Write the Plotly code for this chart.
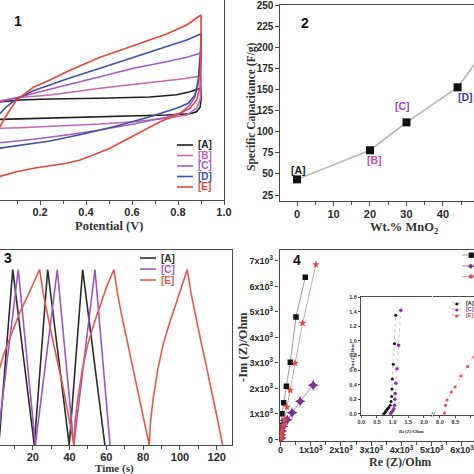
import plotly.graph_objects as go

W = H = 474
def PX(x): return x / W
def PY(y): return 1 - y / H

# ---------------- Panel 1: CV curves (Potential V vs current, arbitrary units) -------------
cv_A_V = [0.00, 0.026, 0.113, 0.243, 0.461, 0.678, 0.794, 0.852, 0.896, 0.900, 0.900, 0.896, 0.881, 0.852, 0.750, 0.606, 0.461, 0.243, 0.113, 0.026, 0.00]
cv_A_I = [1.6, 1.8, 2.0, 2.1, 2.17, 2.3, 2.53, 2.83, 3.17, 3.27, 2.0, 1.27, 0.83, 0.63, 0.5, 0.4, 0.3, 0.2, 0.13, 0.07, 0.05]

cv_B_V = [0.00, 0.026, 0.098, 0.243, 0.461, 0.678, 0.823, 0.896, 0.900, 0.900, 0.896, 0.881, 0.838, 0.750, 0.606, 0.461, 0.243, 0.113, 0.026, 0.00]
cv_B_I = [1.7, 1.93, 2.23, 2.5, 3.17, 3.73, 4.13, 4.4, 4.47, 3.33, 2.0, 1.17, 0.5, 0.17, -0.17, -0.4, -0.67, -0.77, -0.83, -0.86]

cv_C_V = [0.00, 0.026, 0.098, 0.171, 0.316, 0.461, 0.606, 0.750, 0.838, 0.896, 0.900, 0.900, 0.896, 0.888, 0.874, 0.852, 0.809, 0.750, 0.606, 0.461, 0.316, 0.171, 0.026, 0.00]
cv_C_I = [1.6, 1.83, 2.23, 2.67, 3.5, 4.33, 5.17, 5.83, 6.27, 6.67, 6.73, 6.33, 5.33, 3.67, 2.33, 1.5, 0.67, 0.27, -0.4, -1.0, -1.5, -1.93, -2.27, -2.35]

cv_D_V = [0.00, 0.026, 0.055, 0.098, 0.171, 0.316, 0.461, 0.606, 0.750, 0.838, 0.896, 0.900, 0.900, 0.896, 0.888, 0.874, 0.845, 0.794, 0.678, 0.533, 0.388, 0.243, 0.098, 0.026, 0.00]
cv_D_I = [0.3, 0.67, 1.33, 2.1, 2.93, 4.1, 5.17, 6.27, 7.33, 8.0, 8.57, 8.67, 7.67, 6.0, 4.0, 2.5, 1.67, 1.17, 0.33, -0.6, -1.4, -2.1, -2.6, -2.83, -2.9]

cv_E_V = [0.00, 0.026, 0.055, 0.098, 0.171, 0.243, 0.316, 0.461, 0.606, 0.750, 0.838, 0.896, 0.900, 0.900, 0.900, 0.896, 0.881, 0.852, 0.794, 0.722, 0.649, 0.577, 0.504, 0.432, 0.374, 0.316, 0.243, 0.171, 0.098, 0.026, 0.00]
cv_E_I = [-1.2, -0.67, 0.5, 2.0, 3.27, 4.0, 4.83, 6.27, 7.43, 8.6, 9.5, 10.4, 10.5, 8.67, 5.33, 3.33, 2.0, 1.17, 0.5, -0.17, -1.07, -2.0, -2.83, -3.5, -4.0, -4.33, -4.57, -4.83, -5.17, -5.67, -5.8]

cv_names = ["[A]", "[B]", "[C]", "[D]", "[E]"]
cv_colors = ["#1e1e1e", "#c863b6", "#a35cc4", "#4250a3", "#e5473f"]

# ---------------- Panel 2: specific capacitance ----------------
wt_mno2 = [0, 20, 30, 44, 50]
spec_cap = [43.5, 78, 111, 152.5, 188]
cap_labels = ["[A]", "[B]", "[C]", "[D]"]
cap_label_x = [0.5, 21.3, 29.0, 46.1]
cap_label_y = [55, 67, 130, 141]
cap_label_colors = ["#222222", "#c050a8", "#9a45c0", "#3d3d95"]

# ---------------- Panel 3: galvanostatic charge/discharge ----------------
gcd_A_t = [1.5, 9.1, 20.8, 28.1, 39.8, 47.1, 59.2]
gcd_A_v = [0, 0.9, 0, 0.9, 0, 0.9, 0]
gcd_C_t = [0.5, 12.1, 21.4, 33.3, 42.3, 53.8, 62.0]
gcd_C_v = [0, 0.9, 0, 0.9, 0, 0.9, 0]
gcd_E_t = [0.0, 2.2, 4.0, 7.6, 13.0, 18.5, 23.7,
           25.6, 27.6, 30.6, 33.6, 36.6, 39.4, 42.4,
           43.0, 44.5, 47.0, 50.0, 53.5, 57.0, 60.5, 64.1,
           66.0, 68.0, 71.0, 74.0, 77.0, 80.0, 83.3,
           84.0, 85.5, 88.0, 91.0, 94.5, 98.0, 101.0, 104.0,
           106.0, 108.0, 111.0, 114.0, 117.0, 120.0, 123.2]
gcd_E_v = [0.33, 0.40, 0.46, 0.55, 0.68, 0.79, 0.9,
           0.78, 0.68, 0.55, 0.42, 0.29, 0.15, 0.0,
           0.12, 0.24, 0.39, 0.52, 0.63, 0.73, 0.82, 0.9,
           0.78, 0.68, 0.55, 0.42, 0.29, 0.15, 0.0,
           0.12, 0.24, 0.39, 0.52, 0.63, 0.73, 0.82, 0.9,
           0.78, 0.68, 0.55, 0.42, 0.29, 0.15, 0.0]

# ---------------- Panel 4: Nyquist ----------------
eis_A_re = [0, 2, 5, 10, 17, 50, 105, 193, 325, 512, 820]
eis_A_im = [60, 150, 260, 380, 560, 1007, 1438, 2092, 3033, 4800, 6366]
eis_C_re = [4, 8, 20, 45, 80, 140, 225, 385, 650, 1080]
eis_C_im = [30, 70, 180, 330, 520, 740, 770, 1050, 1500, 2130]
eis_E_re = [3, 8, 15, 30, 55, 90, 140, 215, 320, 479, 732, 1172]
eis_E_im = [30, 80, 150, 250, 380, 560, 800, 1268, 1935, 2993, 4562, 6862]

# inset (low-impedance region)
ins_A_re = [0.71, 0.74, 0.77, 0.80, 0.84, 0.88, 0.92, 0.95, 0.97, 0.98, 0.99, 1.02, 1.06, 1.10]
ins_A_im = [0.0, 0.01, 0.03, 0.05, 0.07, 0.09, 0.12, 0.17, 0.24, 0.34, 0.48, 0.68, 0.96, 1.35]
ins_C_re = [0.93, 0.96, 1.00, 1.04, 1.06, 1.07, 1.08, 1.10, 1.14, 1.19, 1.26]
ins_C_im = [0.0, 0.02, 0.04, 0.07, 0.12, 0.20, 0.28, 0.42, 0.62, 0.94, 1.42]
ins_E_re = [8.15, 8.18, 8.23, 8.37, 8.49, 8.68, 8.89, 9.10, 9.30]
ins_E_im = [0.01, 0.12, 0.19, 0.30, 0.37, 0.52, 0.65, 0.78, 0.92]

eis_tick_vals = [0, 1000, 2000, 3000, 4000, 5000, 6000, 7000]
eis_tick_text = ["0"] + ["%dx10<sup>3</sup>" % k for k in range(1, 8)]

TICKFONT = dict(family="Liberation Sans", size=11, color="#2a2a2a", weight="bold")
TITLEFONT = dict(family="Liberation Serif", size=12.5, color="#333333", weight="bold")
LINEC = "#4a4a4a"

fig = go.Figure()

# panel 1 traces
for V, I, c in zip([cv_A_V, cv_B_V, cv_C_V, cv_D_V, cv_E_V],
                   [cv_A_I, cv_B_I, cv_C_I, cv_D_I, cv_E_I], cv_colors):
    fig.add_trace(go.Scatter(x=V, y=I, mode="lines", line=dict(color=c, width=1.6),
                             xaxis="x", yaxis="y", showlegend=False))

# panel 2
fig.add_trace(go.Scatter(x=wt_mno2, y=spec_cap, mode="lines+markers",
                         line=dict(color="#b5b5b5", width=1.6),
                         marker=dict(symbol="square", size=8, color="#111111"),
                         xaxis="x2", yaxis="y2", showlegend=False))

# panel 3
fig.add_trace(go.Scatter(x=gcd_A_t, y=gcd_A_v, mode="lines", line=dict(color="#2b2b2b", width=1.6),
                         xaxis="x3", yaxis="y3", showlegend=False))
fig.add_trace(go.Scatter(x=gcd_C_t, y=gcd_C_v, mode="lines", line=dict(color="#9c58bf", width=1.6),
                         xaxis="x3", yaxis="y3", showlegend=False))
fig.add_trace(go.Scatter(x=gcd_E_t, y=gcd_E_v, mode="lines", line=dict(color="#e8574f", width=1.6),
                         xaxis="x3", yaxis="y3", showlegend=False))

# panel 4
fig.add_trace(go.Scatter(x=eis_A_re, y=eis_A_im, mode="lines+markers",
                         line=dict(color="#9a9a9a", width=1),
                         marker=dict(symbol="square", size=5.5, color="#111111"),
                         xaxis="x4", yaxis="y4", showlegend=False))
fig.add_trace(go.Scatter(x=eis_C_re, y=eis_C_im, mode="lines+markers",
                         line=dict(color="#a88cb8", width=1),
                         marker=dict(symbol="star-diamond", size=8, color="#7d2f8f"),
                         xaxis="x4", yaxis="y4", showlegend=False))
fig.add_trace(go.Scatter(x=eis_E_re, y=eis_E_im, mode="lines+markers",
                         line=dict(color="#e0a0a0", width=1),
                         marker=dict(symbol="star", size=6, color="#e04848"),
                         xaxis="x4", yaxis="y4", showlegend=False))

# inset
fig.add_trace(go.Scatter(x=ins_A_re, y=ins_A_im, mode="lines+markers",
                         line=dict(color="#aaaaaa", width=0.7, dash="dot"),
                         marker=dict(size=3, color="#111111"),
                         xaxis="x5", yaxis="y5", showlegend=False))
fig.add_trace(go.Scatter(x=ins_C_re, y=ins_C_im, mode="lines+markers",
                         line=dict(color="#c0a0d0", width=0.7, dash="dot"),
                         marker=dict(size=3.5, color="#8b2f9b"),
                         xaxis="x5", yaxis="y5", showlegend=False))
fig.add_trace(go.Scatter(x=ins_E_re, y=ins_E_im, mode="lines+markers",
                         line=dict(color="#e8a0a0", width=0.7, dash="dot"),
                         marker=dict(size=3, color="#e04848"),
                         xaxis="x6", yaxis="y5", showlegend=False))

common_axis = dict(showgrid=False, zeroline=False, linecolor=LINEC, linewidth=1.3,
                   tickfont=TICKFONT, tickcolor=LINEC, ticklen=3.5, tickwidth=1.2,
                   automargin=False, tickangle=0)
noticks_axis = {k: v for k, v in common_axis.items() if k not in ("tickfont",)}
INSET_FONT = dict(family="Liberation Sans", size=5.5, color="#333", weight="bold")
inset_axis = dict(showline=True, ticks="outside", ticklen=2, tickwidth=0.8,
                  showgrid=False, zeroline=False, linecolor=LINEC, linewidth=0.9, tickcolor=LINEC,
                  tickfont=INSET_FONT, automargin=False, tickangle=0)
EIS_FONT = dict(TICKFONT, size=9)

layout = dict(
    template="none",
    width=W, height=H, margin=dict(l=0, r=0, t=0, b=0, pad=0),
    paper_bgcolor="white", plot_bgcolor="rgba(0,0,0,0)",
    showlegend=False,
    # panel 1
    xaxis=dict(domain=[0, PX(224)], range=[0.026, 1.0], anchor="y",
               showline=True, ticks="outside", tickvals=[0.2, 0.4, 0.6, 0.8, 1.0],
               ticktext=["0.2", "0.4", "0.6", "0.8", "1.0"], ticklabelstandoff=-2,
               minor=dict(tickvals=[0.1, 0.3, 0.5, 0.7, 0.9], ticks="outside", ticklen=2.5, tickcolor=LINEC),
               **common_axis),
    yaxis=dict(domain=[PY(200), 1], range=[-8, 12], anchor="x", side="right",
               showline=True, ticks="", showticklabels=False, **noticks_axis),
    # panel 2
    xaxis2=dict(domain=[PX(280), 1], range=[-4.66, 48.5], anchor="y2",
                showline=True, mirror=True, ticks="outside", tickvals=[0, 10, 20, 30, 40],
                ticklabelstandoff=-1,
                minor=dict(tickvals=[-5, 5, 15, 25, 35, 45], ticks="outside", ticklen=2.5, tickcolor=LINEC),
                **common_axis),
    yaxis2=dict(domain=[PY(201), PY(5)], range=[17.9, 250], anchor="x2",
                showline=True, ticks="outside",
                tickvals=[25, 50, 75, 100, 125, 150, 175, 200, 225, 250],
                **{**common_axis, "tickfont": dict(TICKFONT, size=10)}),
    # panel 3
    xaxis3=dict(domain=[0, PX(232)], range=[2.17, 128.3], anchor="y3",
                showline=True, mirror=True, ticks="outside", tickvals=[20, 40, 60, 80, 100, 120],
                ticklabelstandoff=-2,
                minor=dict(tickvals=[10, 30, 50, 70, 90, 110], ticks="outside", ticklen=2.5, tickcolor=LINEC),
                **common_axis),
    yaxis3=dict(domain=[PY(445), PY(250)], range=[0, 1.0], anchor="x3", side="right",
                showline=True, ticks="", showticklabels=False, **noticks_axis),
    # panel 4
    xaxis4=dict(domain=[PX(279.5), 1], range=[-33, 6400], anchor="y4",
                showline=True, mirror=True, ticks="outside", ticklabeloverflow="allow",
                tickvals=eis_tick_vals, ticktext=eis_tick_text, ticklabelstandoff=-3,
                minor=dict(tickvals=[500, 1500, 2500, 3500, 4500, 5500], ticks="outside", ticklen=2.5, tickcolor=LINEC),
                **{**common_axis, "tickfont": EIS_FONT}),
    yaxis4=dict(domain=[PY(441), PY(250)], range=[-59, 7431], anchor="x4",
                showline=True, ticks="outside",
                tickvals=eis_tick_vals, ticktext=eis_tick_text,
                **{**common_axis, "tickfont": EIS_FONT}),
    # inset, broken x axis
    xaxis5=dict(domain=[PX(361), PX(431.5)], range=[-0.01, 2.24], anchor="y5", mirror=True,
                tickvals=[0, 0.5, 1.0, 1.5, 2.0], ticktext=["0.0", "0.5", "1.0", "1.5", "2.0"],
                **inset_axis),
    xaxis6=dict(domain=[PX(432.5), 1], range=[7.76, 9.1], anchor="y5", mirror=True,
                tickvals=[8.0, 8.5, 9.0], ticktext=["8.0", "8.5", "9.0"], **inset_axis),
    yaxis5=dict(domain=[PY(414.7), PY(297)], range=[-0.01, 1.6], anchor="x5",
                tickvals=[0, 0.2, 0.4, 0.6, 0.8, 1.0, 1.2, 1.4, 1.6],
                ticktext=["0.0", "0.2", "0.4", "0.6", "0.8", "1.0", "1.2", "1.4", "1.6"],
                **inset_axis),
)
fig.update_layout(**layout)

ann = []
def text(x, y, s, font, xanchor="center", yanchor="middle", angle=0, xref="paper", yref="paper"):
    ann.append(dict(x=x, y=y, xref=xref, yref=yref, text=s, showarrow=False,
                    xanchor=xanchor, yanchor=yanchor, textangle=angle, font=font))

PANEL_FONT = dict(family="Liberation Sans", size=14, color="#111", weight="bold")
text(PX(18), PY(21), "1", PANEL_FONT)
text(PX(305), PY(23), "2", PANEL_FONT)
text(PX(8), PY(258), "3", PANEL_FONT)
text(PX(297), PY(260), "4", PANEL_FONT)

text(PX(109), PY(226), "Potential (V)", TITLEFONT)
text(PX(404), PY(228), "Wt.% MnO<sub>2</sub>", TITLEFONT)
text(PX(251), PY(107), "Specific Capacitance (F/g)", dict(TITLEFONT, size=11.5), angle=-90)
text(PX(114), PY(468), "Time (s)", dict(TITLEFONT, size=11))
text(PX(400), PY(462), "Re (Z)/Ohm", dict(TITLEFONT, size=12))
text(PX(243), PY(347), "-Im (Z)/Ohm", TITLEFONT, angle=-90)
text(PX(352), PY(356), "-Im(Z)/Ohm", dict(TITLEFONT, size=5), angle=-90)
text(PX(412), PY(431), "Re(Z)/Ohm", dict(TITLEFONT, size=5))
text(PX(432.5), PY(414.5), "//", dict(family="Liberation Sans", size=7, color="#333"))

# panel 2 point labels
for lx, ly, s, c in zip(cap_label_x, cap_label_y, cap_labels, cap_label_colors):
    text(lx, ly, s, dict(family="Liberation Sans", size=10.5, color=c, weight="bold"), xref="x2", yref="y2")

shapes = []
def legline(x0, x1, y, color, width=1.6, dash="solid"):
    shapes.append(dict(type="line", xref="paper", yref="paper", x0=PX(x0), x1=PX(x1),
                       y0=PY(y), y1=PY(y), line=dict(color=color, width=width, dash=dash)))

# panel 1 legend
leg1_y = [145, 155.5, 166, 176.5, 187]
for yy, nm, c in zip(leg1_y, cv_names, cv_colors):
    legline(177, 193, yy, c)
    text(PX(196), PY(yy), nm, dict(family="Liberation Sans", size=10, color=c, weight="bold"), xanchor="left")

# panel 3 legend
leg3_y = [258, 269, 280]
for yy, nm, c in zip(leg3_y, ["[A]", "[C]", "[E]"], ["#2b2b2b", "#9c58bf", "#e8574f"]):
    legline(140, 156, yy, c)
    text(PX(159), PY(yy), nm, dict(family="Liberation Sans", size=10, color=c, weight="bold"), xanchor="left")

# panel 4 legend (labels cut off at the right edge)
leg4_y = [255, 266, 276.5]
for yy, sym, c, lc in zip(leg4_y, ["■", "◆", "✱"], ["#111111", "#7d2f8f", "#e04848"], ["#9a9a9a", "#a88cb8", "#e0a0a0"]):
    legline(462, 474, yy, lc, width=1)
    text(PX(471), PY(yy), sym, dict(family="DejaVu Sans", size=7, color=c))

# inset legend
leg5_y = [303, 309, 315]
for yy, nm, c in zip(leg5_y, ["[A]", "[C]", "[E]"], ["#111111", "#8b2f9b", "#e04848"]):
    legline(452, 462, yy, "#999999", width=0.7, dash="dot")
    text(PX(457), PY(yy), "●", dict(family="DejaVu Sans", size=4, color=c))
    text(PX(464), PY(yy), nm, dict(family="Liberation Sans", size=5.5, color=c, weight="bold"), xanchor="left")

fig.update_layout(annotations=ann, shapes=shapes)
fig.write_html("out.html", config={"displayModeBar": False},
               post_script="document.body.style.margin='0';document.body.style.overflow='hidden';")
